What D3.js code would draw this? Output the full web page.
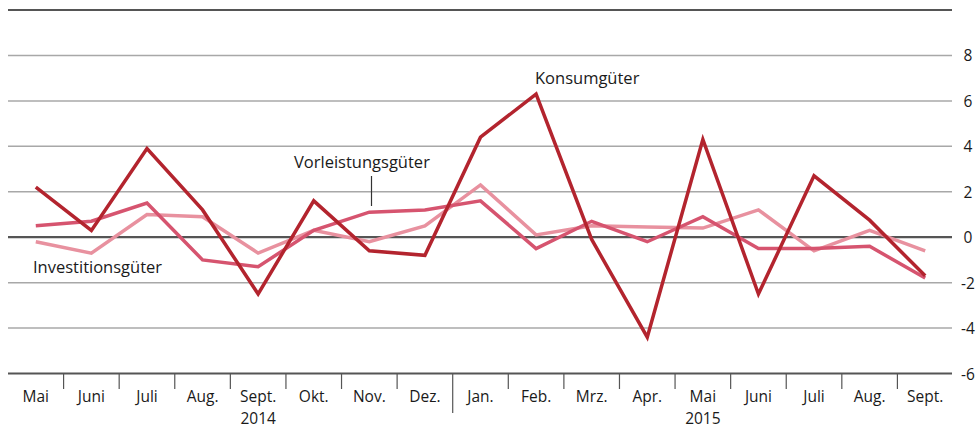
<!DOCTYPE html>
<html>
<head>
<meta charset="utf-8">
<script src="https://cdn.jsdelivr.net/npm/d3@7"></script>
<style>
  body { margin: 0; background: #fff; }
  svg text { font-family: "Open Sans", "Noto Sans", sans-serif; font-size: 16.5px; fill: #1a1a1a; }
  svg text.axis { font-size: 15.5px; }
</style>
</head>
<body>
<svg></svg>
<script>
// Month categories (Mai 2014 - Sept. 2015)
let months = ['Mai', 'Juni', 'Juli', 'Aug.', 'Sept.', 'Okt.', 'Nov.', 'Dez.',
              'Jan.', 'Feb.', 'Mrz.', 'Apr.', 'Mai', 'Juni', 'Juli', 'Aug.', 'Sept.'];
let years = [{ label: '2014', at: 4 }, { label: '2015', at: 12 }];

// Series values (change in percent)
let konsum = [2.2, 0.3, 3.9, 1.2, -2.5, 1.6, -0.6, -0.8, 4.4, 6.3, -0.1, -4.4, 4.3, -2.5, 2.7, 0.75, -1.7];
let vorleistung = [0.5, 0.7, 1.5, -1.0, -1.3, 0.3, 1.1, 1.2, 1.6, -0.5, 0.7, -0.2, 0.9, -0.5, -0.5, -0.4, -1.8];
let investition = [-0.2, -0.7, 1.0, 0.9, -0.7, 0.3, -0.2, 0.5, 2.3, 0.1, 0.5, 0.45, 0.4, 1.2, -0.6, 0.3, -0.6];

let yTicks = [-6, -4, -2, 0, 2, 4, 6, 8];

let width = 977, height = 429;
let svg = d3.select('svg').attr('width', width).attr('height', height);

let x = d3.scaleBand().domain(d3.range(months.length)).range([8, 953]);
let y = d3.scaleLinear().domain([-6, 10]).range([373.5, 10]);
let cx = (i) => x(i) + x.bandwidth() / 2;

// gridlines
svg.selectAll('line.grid')
    .data(yTicks.filter(t => t !== 0 && t !== -6))
    .enter()
    .append('line')
    .attr('x1', 8).attr('x2', 952)
    .attr('y1', d => y(d)).attr('y2', d => y(d))
    .attr('stroke', '#a8a8a8')
    .attr('stroke-width', 1.5);

// top line, zero line, bottom axis line
[10, 0, -6].forEach(v => {
    svg.append('line')
        .attr('x1', 8).attr('x2', 952)
        .attr('y1', y(v)).attr('y2', y(v))
        .attr('stroke', '#555')
        .attr('stroke-width', v === 10 ? 2 : 2.2);
});

// right axis labels
svg.selectAll('text.ytick')
    .data(yTicks)
    .enter()
    .append('text')
    .attr('class', 'axis')
    .attr('x', 968)
    .attr('y', d => y(d) + 6)
    .attr('text-anchor', 'middle')
    .text(d => d);

// bottom ticks between months
svg.selectAll('line.xtick')
    .data(d3.range(1, months.length))
    .enter()
    .append('line')
    .attr('x1', d => x(d)).attr('x2', d => x(d))
    .attr('y1', y(-6)).attr('y2', d => d === 8 ? 413 : 389)
    .attr('stroke', '#555')
    .attr('stroke-width', 1.2);

svg.selectAll('text.month')
    .data(months)
    .enter()
    .append('text')
    .attr('class', 'axis')
    .attr('x', (d, i) => cx(i))
    .attr('y', 402)
    .attr('text-anchor', 'middle')
    .text(d => d);

svg.selectAll('text.year')
    .data(years)
    .enter()
    .append('text')
    .attr('class', 'axis')
    .attr('x', d => cx(d.at))
    .attr('y', 424)
    .attr('text-anchor', 'middle')
    .text(d => d.label);

// lines
let line = d3.line().x((d, i) => cx(i)).y(d => y(d));

let series = [
    { values: investition, color: '#e8919f' },
    { values: vorleistung, color: '#d6546f' },
    { values: konsum, color: '#b3242e' }
];

series.forEach(s => {
    svg.append('path')
        .attr('d', line(s.values))
        .attr('fill', 'none')
        .attr('stroke', s.color)
        .attr('stroke-width', 3.5)
        .attr('stroke-linejoin', 'miter');
});

// labels
svg.append('text').attr('x', 535).attr('y', 84).text('Konsumgüter');
svg.append('text').attr('x', 294).attr('y', 168).text('Vorleistungsgüter');
svg.append('line')
    .attr('x1', 371.5).attr('x2', 371.5)
    .attr('y1', 176).attr('y2', 206)
    .attr('stroke', '#333').attr('stroke-width', 1.2);
svg.append('text').attr('x', 33).attr('y', 273).text('Investitionsgüter');
</script>
</body>
</html>
